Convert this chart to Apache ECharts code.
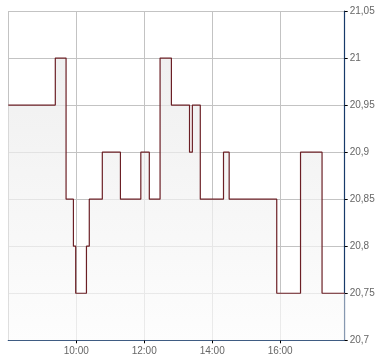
<!DOCTYPE html>
<html>
<head>
<meta charset="utf-8">
<script src="https://cdn.jsdelivr.net/npm/echarts@6/dist/echarts.min.js"></script>
<style>
html,body{margin:0;padding:0;background:#fff;}
#c{width:390px;height:364px;}
</style>
</head>
<body>
<div id="c"></div>
<script>
// Times (HH:MM) where each price level starts
var times = ["08:00","09:23","09:42","09:55","09:59","10:18","10:23","10:46","11:18","11:54","12:09","12:28","12:48","13:20","13:25","13:39","14:20","14:30","15:54","16:36","17:14","17:54"];
var prices = [20.95,21.00,20.85,20.80,20.75,20.80,20.85,20.90,20.85,20.90,20.85,21.00,20.95,20.90,20.95,20.85,20.90,20.85,20.75,20.90,20.75,20.75];
var xLabels = ["10:00","12:00","14:00","16:00"];
var yTicks = [20.7,20.75,20.8,20.85,20.9,20.95,21,21.05];

function toMin(s){var p=s.split(':');return +p[0]*60 + +p[1];}
function fmtMin(m){var h=Math.floor(m/60), mm=m%60;return (h<10?'0':'')+h+':'+(mm<10?'0':'')+mm;}
var data = times.map(function(t,i){return [toMin(t), prices[i]];});

var chart = echarts.init(document.getElementById('c'), null, {renderer:'canvas'});
chart.setOption({
  animation:false,
  backgroundColor:'#fff',
  grid:{left:8.3, right:45.3, top:11, bottom:23.7, containLabel:false},
  xAxis:{
    type:'value', min:480, max:1074, interval:120,
    axisLine:{show:true, onZero:false, lineStyle:{color:'#173a69', width:1.2}},
    axisTick:{show:true, length:3, lineStyle:{color:'#000'}},
    axisLabel:{
      color:'#666', fontSize:10, fontFamily:'Liberation Sans, Arial', margin:6,
      showMinLabel:false, showMaxLabel:false,
      formatter:function(v){var s=fmtMin(v);return xLabels.indexOf(s)>=0?s:'';}
    },
    splitLine:{show:true, lineStyle:{color:'#c3c3c3', width:1}}
  },
  yAxis:{
    type:'value', position:'right', min:20.7, max:21.05, interval:0.05,
    axisLine:{show:true, lineStyle:{color:'#173a69', width:1.2}},
    axisTick:{show:true, length:3, lineStyle:{color:'#000'}},
    axisLabel:{
      color:'#666', fontSize:10, fontFamily:'Liberation Sans, Arial', margin:5,
      formatter:function(v){var r=Math.round(v*100)/100;return String(r).replace('.',',');}
    },
    splitLine:{show:true, lineStyle:{color:'#c3c3c3', width:1}}
  },
  series:[{
    type:'line', step:'end', data:data, symbol:'none',
    lineStyle:{color:'#6b1f25', width:1.2},
    areaStyle:{origin:'start', color:new echarts.graphic.LinearGradient(0,0,0,1,[
      {offset:0,color:'#e9e9e9'},{offset:1,color:'#fcfcfc'}])}
  }]
});
</script>
</body>
</html>
